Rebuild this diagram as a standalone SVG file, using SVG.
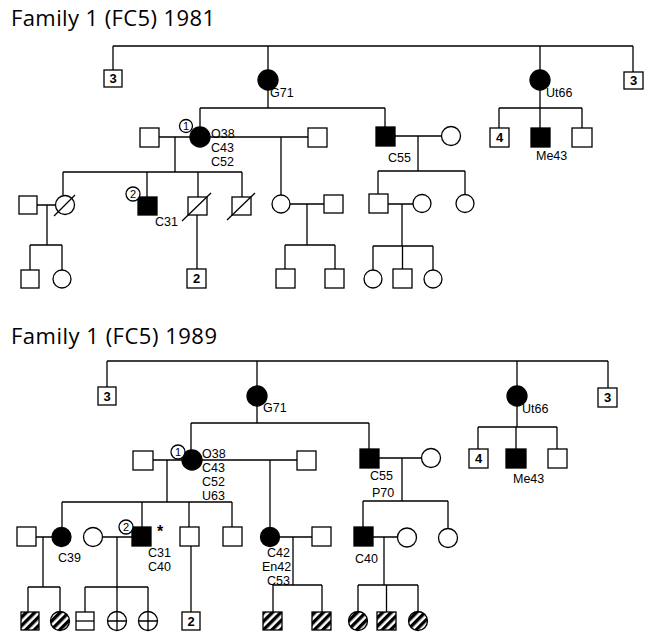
<svg xmlns="http://www.w3.org/2000/svg" width="648" height="633" viewBox="0 0 648 633">
<style>
.ln{stroke:#000;stroke-width:1.3;fill:none}
.e{fill:#fff;stroke:#000;stroke-width:1.3}
.f{fill:#000;stroke:#000;stroke-width:1.3}
.h{fill:url(#hatch);stroke:#000;stroke-width:1.3}
.lbl{font-family:"Liberation Sans",Arial,sans-serif;font-size:12.5px;fill:#000}
.num{font-family:"Liberation Sans",Arial,sans-serif;font-size:13px;font-weight:bold;text-anchor:middle;fill:#000}
.cn{font-family:"Liberation Sans",Arial,sans-serif;font-size:11px;text-anchor:middle;fill:#000}
.title{font-family:"Open Sans",sans-serif;font-size:22px;fill:#000}
</style>
<defs>
<pattern id="hatch" patternUnits="userSpaceOnUse" width="6" height="6" patternTransform="rotate(45)">
<rect width="6" height="6" fill="#fff"/>
<rect width="3.4" height="6" fill="#000"/>
</pattern>
</defs>
<rect width="648" height="633" fill="#fff"/>
<text class="title" x="11" y="26" textLength="204" lengthAdjust="spacing">Family 1 (FC5) 1981</text>
<text class="title" x="11" y="344" textLength="206" lengthAdjust="spacing">Family 1 (FC5) 1989</text>

<g id="connectors" class="ln">
<!-- 1981 -->
<path d="M113 46H633M113 46V70M268 46V108M540 46V108M633 46V72"/>
<path d="M200 108H385M200 108V127M385 108V128"/>
<path d="M499 108H582M499 108V128M540 108V128M582 108V128"/>
<path d="M159 137H190M210 137H308"/>
<path d="M175 137V172M63 172H242M63 172V195.5M147 172V197M198 172V197M242 172V197"/>
<path d="M281 137V195"/>
<path d="M37 205H55.5M47 205V245M30 245H62M30 245V270M62 245V270"/>
<path d="M197 214V269"/>
<path d="M290 204H324M307 204V245M285 245H335M285 245V269M335 245V269"/>
<path d="M395 136H441.5M418 136V171M378 171H465M378 171V194M465 171V194"/>
<path d="M388 204H413M402 204V246M373 246H433M373 246V270M402.5 246V269M433 246V270"/>
<!-- 1989 -->
<path d="M107 361H608M107 361V387M257 361V423M517 361V427M608 361V388"/>
<path d="M191 423H369M191 423V450M369 423V449"/>
<path d="M478 427H557M478 427V449M516 427V449M557 427V449"/>
<path d="M153 460H182M202 460H297"/>
<path d="M167 460V502M62 502H232M62 502V527.5M142 502V527M189 502V527M232 502V527"/>
<path d="M270 460V527.5"/>
<path d="M36 537H52M43 537V587M28 587H60M28 587V612M60 587V611.5"/>
<path d="M102.5 537H132M117 537V587M85 587H148M85 587V612M117 587V611.5M148 587V611.5"/>
<path d="M191 546V612"/>
<path d="M279.5 537H312M293 537V585M273 585H322M273 585V612M322 585V612"/>
<path d="M379 458H421.5M402 458V501M363 501H448M363 501V527M448 501V528.5"/>
<path d="M373 537H397.5M384 537V585M358 585H418M358 585V611.5M386.5 585V612M418 585V611.5"/>
</g>

<!-- ===== 1981 ===== -->
<g id="t_sq3L"><rect class="e" x="104" y="70" width="18" height="17"/><text class="num" x="113" y="83">3</text></g>
<g id="t_G71"><circle class="f" cx="268" cy="80" r="10"/><text class="lbl" x="270" y="97">G71</text></g>
<g id="t_Ut66"><circle class="f" cx="540" cy="80" r="10"/><text class="lbl" x="546" y="97">Ut66</text></g>
<g id="t_sq3R"><rect class="e" x="624" y="72" width="19" height="17"/><text class="num" x="633.5" y="85">3</text></g>
<g id="t_sq4"><rect class="e" x="490" y="128" width="19" height="19"/><text class="num" x="499.5" y="142">4</text></g>
<g id="t_Me43"><rect class="f" x="531" y="128" width="19" height="19"/><text class="lbl" x="536" y="160">Me43</text></g>
<g id="t_sqUt3"><rect class="e" x="572" y="128" width="20" height="19"/></g>
<g id="t_sp1"><rect class="e" x="140" y="128" width="19" height="19"/></g>
<g id="t_I1"><circle class="f" cx="200" cy="137" r="10"/>
<circle class="e" cx="186" cy="126" r="6.5"/><text class="cn" x="186" y="130">1</text>
<text class="lbl" x="211" y="137.5">O38</text><text class="lbl" x="211" y="151.5">C43</text><text class="lbl" x="211" y="165.5">C52</text></g>
<g id="t_sp2"><rect class="e" x="308" y="128" width="19" height="19"/></g>
<g id="t_C55"><rect class="f" x="376" y="127" width="19" height="19"/><text class="lbl" x="388" y="162">C55</text></g>
<g id="t_spC55"><circle class="e" cx="451" cy="136" r="9.5"/></g>
<g id="t_sqA"><rect class="e" x="19" y="196" width="18" height="18"/></g>
<g id="t_cD"><circle class="e" cx="65" cy="205" r="9.5"/><path class="ln" d="M54 216L75 195"/></g>
<g id="t_C31"><rect class="f" x="138" y="197" width="19" height="18"/>
<circle class="e" cx="133" cy="194" r="7"/><text class="cn" x="133" y="198">2</text>
<text class="lbl" x="155" y="226">C31</text></g>
<g id="t_sqD1"><rect class="e" x="188" y="197" width="19" height="18"/><path class="ln" d="M182 221L211 193"/></g>
<g id="t_sqD2"><rect class="e" x="232" y="197" width="19" height="18"/><path class="ln" d="M227 220L255 193"/></g>
<g id="t_cB"><circle class="e" cx="281" cy="204" r="9"/></g>
<g id="t_sqB"><rect class="e" x="324" y="195" width="19" height="18"/></g>
<g id="t_sqC"><rect class="e" x="369" y="194" width="19" height="19"/></g>
<g id="t_cC"><circle class="e" cx="422" cy="203.5" r="9"/></g>
<g id="t_cC2"><circle class="e" cx="465" cy="203.5" r="9"/></g>
<g id="t_g4a"><rect class="e" x="21" y="270" width="18" height="18"/></g>
<g id="t_g4b"><circle class="e" cx="62" cy="279" r="9"/></g>
<g id="t_g4c"><rect class="e" x="187" y="269" width="19" height="19"/><text class="num" x="196.5" y="283">2</text></g>
<g id="t_g4d"><rect class="e" x="276" y="269" width="19" height="19"/></g>
<g id="t_g4e"><rect class="e" x="325" y="269" width="19" height="19"/></g>
<g id="t_g4f"><circle class="e" cx="373" cy="279" r="9"/></g>
<g id="t_g4g"><rect class="e" x="393" y="269" width="19" height="19"/></g>
<g id="t_g4h"><circle class="e" cx="433" cy="279" r="9"/></g>

<!-- ===== 1989 ===== -->
<g id="b_sq3L"><rect class="e" x="98" y="387" width="18" height="18"/><text class="num" x="107" y="401">3</text></g>
<g id="b_G71"><circle class="f" cx="257" cy="396" r="10"/><text class="lbl" x="263" y="412">G71</text></g>
<g id="b_Ut66"><circle class="f" cx="517" cy="396" r="10"/><text class="lbl" x="522" y="413">Ut66</text></g>
<g id="b_sq3R"><rect class="e" x="598" y="388" width="19" height="19"/><text class="num" x="607.5" y="402">3</text></g>
<g id="b_sq4"><rect class="e" x="469" y="449" width="19" height="19"/><text class="num" x="478.5" y="463">4</text></g>
<g id="b_Me43"><rect class="f" x="506" y="449" width="20" height="19"/><text class="lbl" x="513" y="483">Me43</text></g>
<g id="b_sqUt3"><rect class="e" x="548" y="449" width="19" height="19"/></g>
<g id="b_sp1"><rect class="e" x="133" y="451" width="20" height="19"/></g>
<g id="b_I1"><circle class="f" cx="192" cy="460" r="10"/>
<circle class="e" cx="178" cy="452" r="7"/><text class="cn" x="178" y="456">1</text>
<text class="lbl" x="202" y="457.5">O38</text><text class="lbl" x="202" y="471.5">C43</text><text class="lbl" x="202" y="485.5">C52</text><text class="lbl" x="202" y="499.5">U63</text></g>
<g id="b_sp2"><rect class="e" x="297" y="451" width="19" height="19"/></g>
<g id="b_C55"><rect class="f" x="360" y="449" width="19" height="19"/><text class="lbl" x="370" y="480">C55</text><text class="lbl" x="372" y="497">P70</text></g>
<g id="b_spC55"><circle class="e" cx="431" cy="458" r="9.5"/></g>
<g id="b_sqA"><rect class="e" x="17" y="527" width="19" height="19"/></g>
<g id="b_C39"><circle class="f" cx="61.5" cy="537" r="9.5"/><text class="lbl" x="58" y="562">C39</text></g>
<g id="b_cW"><circle class="e" cx="93" cy="537" r="9.5"/></g>
<g id="b_C31"><rect class="f" x="132" y="527" width="19" height="19"/>
<circle class="e" cx="126" cy="527" r="7"/><text class="cn" x="126" y="531">2</text>
<text class="lbl" x="157" y="537" style="font-weight:bold;font-size:16px">*</text>
<text class="lbl" x="148" y="557">C31</text><text class="lbl" x="148" y="571">C40</text></g>
<g id="b_sqE"><rect class="e" x="180" y="527" width="19" height="19"/></g>
<g id="b_sqF"><rect class="e" x="223" y="527" width="19" height="19"/></g>
<g id="b_C42"><circle class="f" cx="270" cy="537" r="9.5"/><text class="lbl" x="267" y="557">C42</text><text class="lbl" x="262" y="571">En42</text><text class="lbl" x="267" y="585">C53</text></g>
<g id="b_spC42"><rect class="e" x="312" y="527" width="19" height="19"/></g>
<g id="b_C40"><rect class="f" x="354" y="527" width="19" height="19"/><text class="lbl" x="355" y="563">C40</text></g>
<g id="b_cG"><circle class="e" cx="407" cy="537.5" r="9.5"/></g>
<g id="b_cH"><circle class="e" cx="448" cy="538" r="9.5"/></g>
<g id="b_g4a"><rect class="h" x="21" y="612" width="18" height="18"/></g>
<g id="b_g4b"><circle class="h" cx="60" cy="621" r="9.5"/></g>
<g id="b_g4c"><rect class="e" x="76" y="612" width="18" height="18"/><path class="ln" d="M76 621H94"/></g>
<g id="b_g4d"><circle class="e" cx="117" cy="621" r="9.5"/><path class="ln" d="M107.5 621H126.5M117 611.5V630.5"/></g>
<g id="b_g4e"><circle class="e" cx="148" cy="621" r="9.5"/><path class="ln" d="M138.5 621H157.5M148 611.5V630.5"/></g>
<g id="b_g4f"><rect class="e" x="182" y="612" width="18" height="18"/><text class="num" x="191" y="626">2</text></g>
<g id="b_g4g"><rect class="h" x="263" y="612" width="19" height="18"/></g>
<g id="b_g4h"><rect class="h" x="312" y="612" width="19" height="18"/></g>
<g id="b_g4i"><circle class="h" cx="358" cy="621" r="9.5"/></g>
<g id="b_g4j"><rect class="h" x="377" y="612" width="19" height="18"/></g>
<g id="b_g4k"><circle class="h" cx="418" cy="621" r="9.5"/></g>
</svg>
